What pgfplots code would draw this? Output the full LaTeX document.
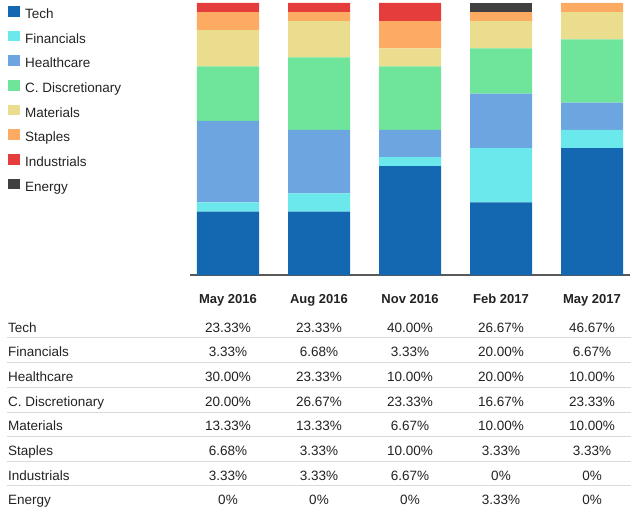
\documentclass[border=0pt]{standalone}
\usepackage{pgfplots}
\pgfplotsset{compat=1.18}
\usepackage{fontspec}
\setmainfont{Liberation Sans}

\definecolor{cTech}{HTML}{1468B1}
\definecolor{cFin}{HTML}{6AE8EC}
\definecolor{cHealth}{HTML}{6CA5DF}
\definecolor{cDisc}{HTML}{6EE59A}
\definecolor{cMat}{HTML}{EBDD8E}
\definecolor{cStap}{HTML}{FDAB62}
\definecolor{cInd}{HTML}{E53C3C}
\definecolor{cEnergy}{HTML}{404040}
\definecolor{txt}{HTML}{222222}
\definecolor{rule}{HTML}{DADADA}

\newcommand{\rowfont}{\fontsize{13.5}{16}\selectfont}

\begin{document}
\begin{tikzpicture}
\useasboundingbox (0pt,0pt) rectangle (640pt,-513pt);

\begin{axis}[
    at={(190pt,-275pt)}, anchor=south west,
    scale only axis,
    width=440pt, height=272pt,
    xmin=-0.41758, xmax=4.41758,
    ymin=0, ymax=100,
    ybar stacked, bar width=62pt,
    axis y line=none,
    axis x line=bottom,
    x axis line style={-, draw=black!65, line width=1.1pt},
    xtick={0,1,2,3,4},
    xticklabels={May 2016, Aug 2016, Nov 2016, Feb 2017, May 2017},
    major tick length=0pt,
    xticklabel style={anchor=base, yshift=-28pt, font=\fontsize{13}{16}\selectfont\bfseries, text=txt},
    legend style={at={(-0.41364,0.9900)}, anchor=north west,
        draw=none, fill=none, inner sep=0pt, row sep=9.17pt,
        nodes={inner sep=0pt, text height=10pt, text depth=3pt, font=\rowfont, text=txt}},
    legend cell align=left,
    legend image code/.code={\fill[#1] (0pt,-1.8pt) rectangle (12pt,9pt); \path (17pt,0pt);},
]
\addplot[fill=cTech, draw=none] coordinates {(0,23.33) (1,23.33) (2,40.00) (3,26.67) (4,46.67)};
\addplot[fill=cFin, draw=none] coordinates {(0,3.33) (1,6.68) (2,3.33) (3,20.00) (4,6.67)};
\addplot[fill=cHealth, draw=none] coordinates {(0,30.00) (1,23.33) (2,10.00) (3,20.00) (4,10.00)};
\addplot[fill=cDisc, draw=none] coordinates {(0,20.00) (1,26.67) (2,23.33) (3,16.67) (4,23.33)};
\addplot[fill=cMat, draw=none] coordinates {(0,13.33) (1,13.33) (2,6.67) (3,10.00) (4,10.00)};
\addplot[fill=cStap, draw=none] coordinates {(0,6.68) (1,3.33) (2,10.00) (3,3.33) (4,3.33)};
\addplot[fill=cInd, draw=none] coordinates {(0,3.33) (1,3.33) (2,6.67) (3,0) (4,0)};
\addplot[fill=cEnergy, draw=none] coordinates {(0,0) (1,0) (2,0) (3,3.33) (4,0)};
\legend{Tech, Financials, Healthcare, C. Discretionary, Materials, Staples, Industrials, Energy}
\end{axis}

% table below the chart
\foreach \y in {337.3, 362.3, 387.7, 412, 436.7, 461, 485.7}
    \draw[rule, line width=0.9pt] (7pt,-\y pt) -- (631pt,-\y pt);

\foreach \lab/\a/\b/\c/\d/\e [count=\i from 0] in {
    Tech/23.33\%/23.33\%/40.00\%/26.67\%/46.67\%,
    Financials/3.33\%/6.68\%/3.33\%/20.00\%/6.67\%,
    Healthcare/30.00\%/23.33\%/10.00\%/20.00\%/10.00\%,
    C. Discretionary/20.00\%/26.67\%/23.33\%/16.67\%/23.33\%,
    Materials/13.33\%/13.33\%/6.67\%/10.00\%/10.00\%,
    Staples/6.68\%/3.33\%/10.00\%/3.33\%/3.33\%,
    Industrials/3.33\%/3.33\%/6.67\%/0\%/0\%,
    Energy/0\%/0\%/0\%/3.33\%/0\%}
{
    \pgfmathsetmacro{\yb}{-(327.4 + 24.66*\i + 4.8)}
    \node[anchor=base west, inner sep=0pt, font=\rowfont, text=txt] at (8pt,\yb pt) {\lab};
    \node[anchor=base, inner sep=0pt, font=\rowfont, text=txt] at (228pt,\yb pt) {\a};
    \node[anchor=base, inner sep=0pt, font=\rowfont, text=txt] at (319pt,\yb pt) {\b};
    \node[anchor=base, inner sep=0pt, font=\rowfont, text=txt] at (410pt,\yb pt) {\c};
    \node[anchor=base, inner sep=0pt, font=\rowfont, text=txt] at (501pt,\yb pt) {\d};
    \node[anchor=base, inner sep=0pt, font=\rowfont, text=txt] at (592pt,\yb pt) {\e};
}
\end{tikzpicture}
\end{document}
